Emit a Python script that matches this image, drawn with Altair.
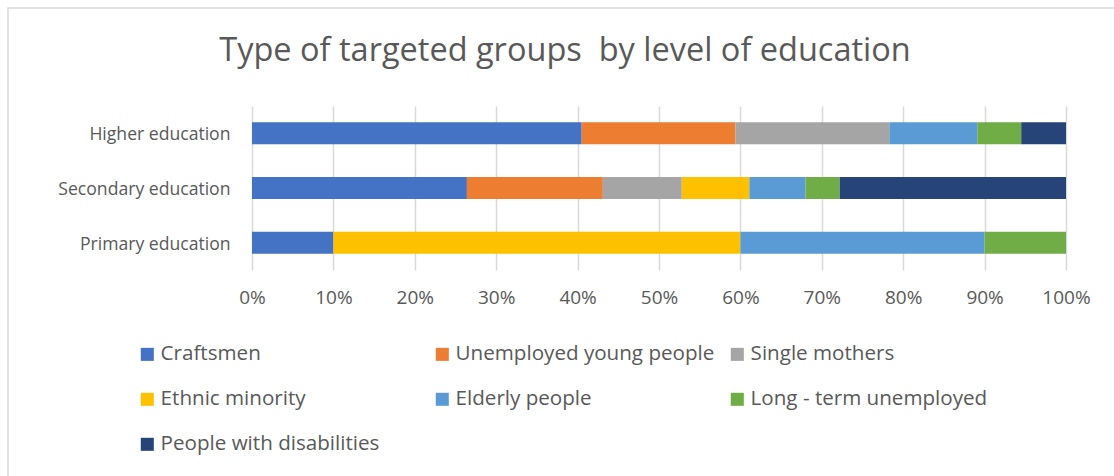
import altair as alt
import pandas as pd

levels = ["Higher education", "Secondary education", "Primary education"]
series = ["Craftsmen", "Unemployed young people", "Single mothers",
          "Ethnic minority", "Elderly people", "Long - term unemployed",
          "People with disabilities"]
colors = ["#4472C4", "#ED7D31", "#A5A5A5", "#FFC000", "#5B9BD5", "#70AD47", "#264478"]

higher = [40.5, 18.9, 18.9, 0.0, 10.8, 5.4, 5.5]
secondary = [26.4, 16.7, 9.7, 8.3, 6.9, 4.2, 27.8]
primary = [10.0, 0.0, 0.0, 50.0, 30.0, 10.0, 0.0]

rows = []
for lvl, vals in zip(levels, [higher, secondary, primary]):
    for i, (s, v) in enumerate(zip(series, vals)):
        rows.append({"level": lvl, "group": s, "value": v / 100.0, "order": i})
df = pd.DataFrame(rows)

FONT = "Open Sans"
TXT = "#595959"

bars = alt.Chart(df).mark_bar(size=22).encode(
    x=alt.X("value:Q", stack="normalize",
            scale=alt.Scale(domain=[0, 1], nice=False),
            axis=alt.Axis(format="%", values=[i / 10 for i in range(11)], title=None,
                          grid=True, gridColor="#D9D9D9", gridWidth=1.5,
                          domain=False, ticks=False, labelFontSize=19,
                          labelColor=TXT, labelFont=FONT, labelPadding=18,
                          labelFlush=False)),
    y=alt.Y("level:N", sort=levels, title=None,
            axis=alt.Axis(domain=False, ticks=False, labelFontSize=17.6,
                          labelColor=TXT, labelFont=FONT, labelPadding=22,
                          labelOffset=2, labelLimit=300)),
    color=alt.Color("group:N", sort=series,
                    scale=alt.Scale(domain=series, range=colors),
                    legend=alt.Legend(title=None, orient="none", legendX=-115, legendY=238,
                                      direction="horizontal",
                                      columns=3, gridAlign="all", columnPadding=12,
                                      rowPadding=24, symbolType="square", symbolSize=170,
                                      symbolStrokeWidth=0, labelFontSize=20.6,
                                      labelColor=TXT, labelFont=FONT, labelOffset=3,
                                      labelLimit=400)),
    order=alt.Order("order:Q"),
)

border = alt.Chart(pd.DataFrame({"a": [0]})).mark_rect(
    fill=None, stroke="#D9D9D9", strokeWidth=1.5
).encode(
    x=alt.value(-244), x2=alt.value(900), y=alt.value(-98), y2=alt.value(500)
)

chart = alt.layer(border, bars).properties(
    width=814, height=164,
    title=alt.Title("Type of targeted groups\u00a0 by level of education",
                    fontSize=32.5, font=FONT, fontWeight="normal", color=TXT,
                    anchor="middle", frame="group", dx=-94, offset=-60),
    autosize=alt.AutoSizeParams(type="none"),
    padding={"left": 252, "top": 106, "right": 48, "bottom": 206},
).configure_view(stroke=None)

chart.save("out.html", embed_options={"renderer": "svg", "actions": False})
